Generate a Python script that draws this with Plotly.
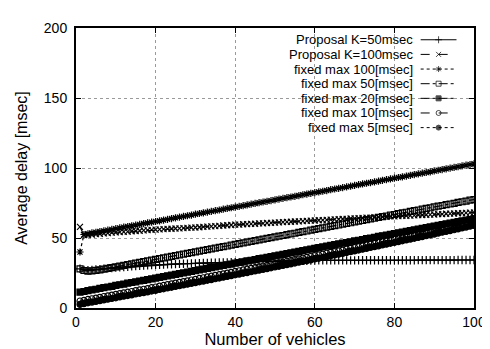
import plotly.graph_objects as go

vehicles = list(range(1, 101))

prop_k50 = [
    28.0, 27.2, 27.0, 27.2, 27.5, 27.8, 28.1, 28.4, 28.6, 28.9,
    29.1, 29.3, 29.5, 29.7, 29.9, 30.1, 30.3, 30.5, 30.6, 30.8,
    30.9, 31.0, 31.2, 31.3, 31.4, 31.5, 31.6, 31.7, 31.8, 31.9,
    32.0, 32.1, 32.2, 32.3, 32.4, 32.5, 32.5, 32.6, 32.7, 32.8,
    32.8, 32.9, 33.0, 33.0, 33.1, 33.2, 33.2, 33.3, 33.3, 33.4,
    33.5, 33.5, 33.6, 33.6, 33.7, 33.7, 33.8, 33.8, 33.9, 33.9,
    34.0, 34.0, 34.0, 34.0, 34.0, 34.0, 34.0, 34.0, 34.0, 34.0,
    34.1, 34.1, 34.1, 34.1, 34.1, 34.1, 34.1, 34.1, 34.1, 34.1,
    34.1, 34.1, 34.1, 34.1, 34.1, 34.2, 34.2, 34.2, 34.2, 34.2,
    34.2, 34.2, 34.2, 34.2, 34.2, 34.3, 34.3, 34.3, 34.3, 34.3,
]

prop_k100 = [
    58.0, 52.0, 52.3, 52.5, 52.8, 53.0, 53.3, 53.5, 53.8, 54.0,
    54.2, 54.4, 54.6, 54.8, 55.0, 55.2, 55.4, 55.6, 55.8, 56.0,
    56.2, 56.3, 56.5, 56.6, 56.8, 56.9, 57.1, 57.2, 57.4, 57.5,
    57.7, 57.9, 58.1, 58.3, 58.5, 58.7, 58.9, 59.1, 59.3, 59.5,
    59.6, 59.8, 59.9, 60.1, 60.2, 60.4, 60.5, 60.7, 60.8, 61.0,
    61.2, 61.3, 61.5, 61.6, 61.8, 61.9, 62.1, 62.2, 62.4, 62.5,
    62.7, 62.8, 63.0, 63.1, 63.3, 63.4, 63.6, 63.7, 63.9, 64.0,
    64.2, 64.3, 64.5, 64.6, 64.8, 64.9, 65.1, 65.2, 65.4, 65.5,
    65.6, 65.8, 65.9, 66.0, 66.2, 66.3, 66.4, 66.6, 66.7, 66.8,
    67.0, 67.1, 67.3, 67.4, 67.5, 67.7, 67.8, 67.9, 68.1, 68.2,
]

fixed_100 = [
    40.0, 52.5, 53.0, 53.6, 54.1, 54.6, 55.1, 55.6, 56.1, 56.7,
    57.2, 57.7, 58.2, 58.7, 59.2, 59.7, 60.3, 60.8, 61.3, 61.8,
    62.3, 62.8, 63.3, 63.9, 64.4, 64.9, 65.4, 65.9, 66.4, 67.0,
    67.5, 68.0, 68.5, 69.0, 69.5, 70.0, 70.6, 71.1, 71.6, 72.1,
    72.6, 73.1, 73.6, 74.2, 74.7, 75.2, 75.7, 76.2, 76.7, 77.3,
    77.8, 78.3, 78.8, 79.3, 79.8, 80.3, 80.9, 81.4, 81.9, 82.4,
    82.9, 83.4, 83.9, 84.5, 85.0, 85.5, 86.0, 86.5, 87.0, 87.6,
    88.1, 88.6, 89.1, 89.6, 90.1, 90.6, 91.2, 91.7, 92.2, 92.7,
    93.2, 93.7, 94.2, 94.8, 95.3, 95.8, 96.3, 96.8, 97.3, 97.9,
    98.4, 98.9, 99.4, 99.9, 100.4, 100.9, 101.5, 102.0, 102.5, 103.0,
]

fixed_50 = [
    28.0, 26.8, 26.3, 26.5, 26.9, 27.3, 27.8, 28.3, 28.8, 29.4,
    29.9, 30.4, 31.0, 31.5, 32.0, 32.6, 33.1, 33.7, 34.2, 34.7,
    35.3, 35.8, 36.3, 36.9, 37.4, 37.9, 38.5, 39.0, 39.5, 40.1,
    40.6, 41.1, 41.7, 42.2, 42.7, 43.3, 43.8, 44.3, 44.9, 45.4,
    46.0, 46.5, 47.0, 47.6, 48.1, 48.6, 49.2, 49.7, 50.2, 50.8,
    51.3, 51.8, 52.4, 52.9, 53.4, 54.0, 54.5, 55.0, 55.6, 56.1,
    56.7, 57.2, 57.7, 58.3, 58.8, 59.3, 59.9, 60.4, 60.9, 61.5,
    62.0, 62.5, 63.1, 63.6, 64.1, 64.7, 65.2, 65.7, 66.3, 66.8,
    67.4, 67.9, 68.4, 69.0, 69.5, 70.0, 70.6, 71.1, 71.6, 72.2,
    72.7, 73.2, 73.8, 74.3, 74.8, 75.4, 75.9, 76.4, 77.0, 77.5,
]

fixed_20 = [
    11.3, 11.8, 12.4, 12.9, 13.4, 14.0, 14.5, 15.0, 15.5, 16.1,
    16.6, 17.1, 17.7, 18.2, 18.7, 19.3, 19.8, 20.3, 20.8, 21.4,
    21.9, 22.4, 23.0, 23.5, 24.0, 24.6, 25.1, 25.6, 26.1, 26.7,
    27.2, 27.7, 28.3, 28.8, 29.3, 29.9, 30.4, 30.9, 31.4, 32.0,
    32.5, 33.0, 33.6, 34.1, 34.6, 35.2, 35.7, 36.2, 36.7, 37.3,
    37.8, 38.3, 38.9, 39.4, 39.9, 40.5, 41.0, 41.5, 42.0, 42.6,
    43.1, 43.6, 44.2, 44.7, 45.2, 45.8, 46.3, 46.8, 47.3, 47.9,
    48.4, 48.9, 49.5, 50.0, 50.5, 51.1, 51.6, 52.1, 52.6, 53.2,
    53.7, 54.2, 54.8, 55.3, 55.8, 56.4, 56.9, 57.4, 57.9, 58.5,
    59.0, 59.5, 60.1, 60.6, 61.1, 61.7, 62.2, 62.7, 63.2, 63.8,
]

fixed_10 = [
    5.0, 5.5, 6.1, 6.6, 7.1, 7.6, 8.2, 8.7, 9.2, 9.7,
    10.3, 10.8, 11.3, 11.8, 12.4, 12.9, 13.4, 13.9, 14.5, 15.0,
    15.6, 16.1, 16.7, 17.2, 17.8, 18.3, 18.9, 19.4, 20.0, 20.5,
    21.1, 21.6, 22.2, 22.7, 23.3, 23.8, 24.4, 24.9, 25.5, 26.1,
    26.6, 27.2, 27.7, 28.3, 28.9, 29.4, 30.0, 30.5, 31.1, 31.7,
    32.2, 32.8, 33.4, 33.9, 34.5, 35.1, 35.6, 36.2, 36.8, 37.4,
    37.9, 38.5, 39.1, 39.7, 40.3, 40.8, 41.4, 42.0, 42.6, 43.2,
    43.8, 44.4, 45.0, 45.6, 46.2, 46.8, 47.4, 48.0, 48.6, 49.2,
    49.8, 50.4, 51.0, 51.6, 52.2, 52.8, 53.4, 54.0, 54.6, 55.2,
    55.9, 56.5, 57.1, 57.7, 58.3, 58.9, 59.6, 60.2, 60.8, 61.4,
]

fixed_5 = [
    2.6, 3.1, 3.7, 4.2, 4.7, 5.2, 5.8, 6.3, 6.8, 7.3,
    7.9, 8.4, 8.9, 9.4, 10.0, 10.5, 11.0, 11.5, 12.1, 12.6,
    13.2, 13.7, 14.3, 14.8, 15.4, 15.9, 16.5, 17.0, 17.6, 18.1,
    18.7, 19.2, 19.8, 20.3, 20.9, 21.4, 22.0, 22.5, 23.1, 23.7,
    24.2, 24.8, 25.3, 25.9, 26.5, 27.0, 27.6, 28.1, 28.7, 29.3,
    29.8, 30.4, 31.0, 31.5, 32.1, 32.7, 33.2, 33.8, 34.4, 35.0,
    35.5, 36.1, 36.7, 37.3, 37.9, 38.4, 39.0, 39.6, 40.2, 40.8,
    41.4, 42.0, 42.6, 43.2, 43.8, 44.4, 45.0, 45.6, 46.2, 46.8,
    47.4, 48.0, 48.6, 49.2, 49.8, 50.4, 51.0, 51.6, 52.2, 52.8,
    53.5, 54.1, 54.7, 55.3, 55.9, 56.5, 57.2, 57.8, 58.4, 59.0,
]

series_names = [
    "Proposal K=50msec",
    "Proposal K=100msec",
    "fixed max 100[msec]",
    "fixed max 50[msec]",
    "fixed max 20[msec]",
    "fixed max 10[msec]",
    "fixed max 5[msec]",
]
series_values = [prop_k50, prop_k100, fixed_100, fixed_50, fixed_20, fixed_10, fixed_5]
series_symbols = ["cross-thin-open", "x-thin-open", "asterisk-open", "square-open",
                  "square", "circle-open", "circle"]
series_dash = ["solid", "dash", "dot", "dashdot", "dashdot", "dash", "dot"]
x_ticks = [0, 20, 40, 60, 80, 100]
y_ticks = [0, 50, 100, 150, 200]

FONT = "Liberation Sans, Arial, Helvetica, sans-serif"

# gnuplot-style key layout (fractions of the plot area): text right-aligned, sample to its right
KEY_TEXT_X = 0.849
KEY_SAMPLE_X0, KEY_SAMPLE_XM, KEY_SAMPLE_X1 = 0.866, 0.911, 0.956
KEY_TOP_Y, KEY_ROW_STEP = 0.958, 0.0523

fig = go.Figure()
for name, vals, sym, dash in zip(series_names, series_values, series_symbols, series_dash):
    fig.add_trace(go.Scatter(
        x=vehicles, y=vals, name=name, mode="lines+markers", showlegend=False,
        line=dict(color="black", width=1.2, dash=dash),
        marker=dict(symbol=sym, size=6, color="black",
                    line=dict(color="black", width=1.2)),
    ))

annotations = []
for i, (name, sym, dash) in enumerate(zip(series_names, series_symbols, series_dash)):
    row_y = KEY_TOP_Y - i * KEY_ROW_STEP
    annotations.append(dict(
        xref="paper", yref="paper", x=KEY_TEXT_X, y=row_y, text=name,
        showarrow=False, xanchor="right", yanchor="middle", borderpad=0,
        font=dict(family=FONT, size=13, color="black"),
    ))
    # key sample drawn on an overlay axis in plot-area units
    fig.add_trace(go.Scatter(
        x=[KEY_SAMPLE_X0, KEY_SAMPLE_XM, KEY_SAMPLE_X1], y=[row_y] * 3,
        xaxis="x2", yaxis="y2", mode="lines+markers", showlegend=False, hoverinfo="skip",
        line=dict(color="black", width=1, dash=dash),
        marker=dict(symbol=sym, size=[0, 5, 0], color="black",
                    line=dict(color="black", width=1)),
    ))

axis_common = dict(
    showline=True, linecolor="black", linewidth=2, mirror="allticks",
    ticks="inside", ticklen=5, tickcolor="black", tickwidth=1,
    showgrid=True, gridcolor="#9a9a9a", gridwidth=1, griddash="dot",
    zeroline=False, tickfont=dict(family=FONT, size=14, color="black"),
)

fig.update_layout(
    width=490, height=349,
    margin=dict(l=68, r=17, t=16, b=46),
    paper_bgcolor="white", plot_bgcolor="white",
    font=dict(family=FONT, color="black"),
    showlegend=False,
    annotations=annotations,
    xaxis=dict(range=[0, 100], tickvals=x_ticks,
               title=dict(text="Number of vehicles", font=dict(family=FONT, size=16.5), standoff=4),
               **axis_common),
    yaxis=dict(range=[0, 200], tickvals=y_ticks, ticklabelstandoff=4,
               title=dict(text="Average delay [msec]", font=dict(family=FONT, size=16), standoff=12),
               **axis_common),
    xaxis2=dict(overlaying="x", range=[0, 1], visible=False, fixedrange=True),
    yaxis2=dict(overlaying="y", range=[0, 1], visible=False, fixedrange=True),
)

fig.write_html("out.html")
